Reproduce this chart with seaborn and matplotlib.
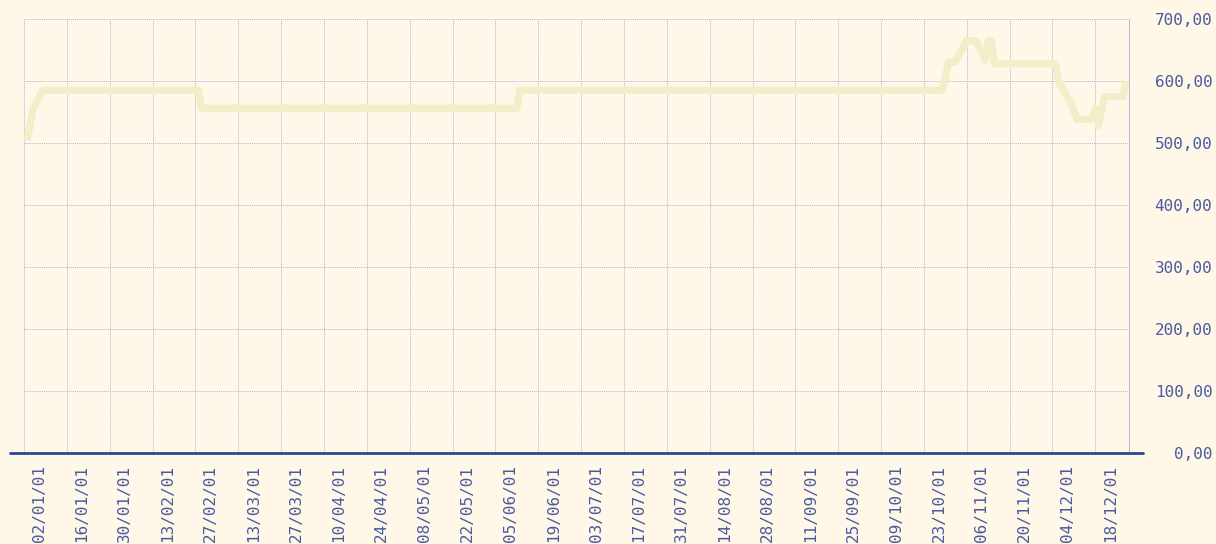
import pandas as pd
import matplotlib
matplotlib.use("Agg")
import matplotlib.pyplot as plt
import matplotlib.dates as mdates
import matplotlib.transforms as mtransforms
from matplotlib.ticker import FuncFormatter
import seaborn as sns

# Price curve vertices (2001)
dates = ["2001-01-03", "2001-01-05", "2001-01-08", "2001-02-28", "2001-03-01",
         "2001-06-12", "2001-06-13", "2001-10-29", "2001-10-31", "2001-11-02",
         "2001-11-06", "2001-11-09", "2001-11-12", "2001-11-13", "2001-11-14",
         "2001-11-15", "2001-12-05", "2001-12-06", "2001-12-10", "2001-12-12",
         "2001-12-17", "2001-12-18", "2001-12-19", "2001-12-21", "2001-12-27",
         "2001-12-28"]
values = [505, 556, 585, 585, 556,
          556, 585, 585, 630, 630,
          665, 665, 634, 665, 665,
          628, 628, 598, 565, 538,
          538, 555, 528, 575, 575,
          600]
y_ticks = [0, 100, 200, 300, 400, 500, 600, 700]

bg = "#FFF8E8"
navy = "#2E4594"
text_col = "#4A5AA0"
grid_col = "#B4B4D6"

df = pd.DataFrame({"date": pd.to_datetime(dates), "value": values})

sns.set_style("white")
plt.rcParams["font.family"] = ["DejaVu Sans Mono", "DejaVu Sans"]

fig = plt.figure(figsize=(12.16, 5.44), dpi=100, facecolor=bg)
ax = fig.add_axes([24 / 1216, 91 / 544, 1105 / 1216, 434 / 544])
ax.set_facecolor(bg)

sns.lineplot(data=df, x="date", y="value", ax=ax, color="#F3EDC9",
             linewidth=5.2, solid_joinstyle="round", solid_capstyle="butt",
             zorder=3)

ax.set_xlim(pd.Timestamp("2001-01-02"), pd.Timestamp("2001-12-29"))
ax.set_ylim(0, 700)

# x ticks every 14 days starting 02/01/01
ticks = pd.date_range("2001-01-02", "2001-12-29", freq="14D")
ax.set_xticks(ticks)
ax.xaxis.set_major_formatter(mdates.DateFormatter("%d/%m/%y"))
ax.set_yticks(y_ticks)
ax.yaxis.set_major_formatter(FuncFormatter(lambda v, p: f"{v:.2f}".replace(".", ",")))

ax.yaxis.tick_right()
ax.tick_params(axis="y", length=0, pad=60, labelsize=11.5, labelcolor=text_col)
ax.tick_params(axis="x", length=0, pad=9, labelsize=11.5, labelcolor=text_col,
               labelrotation=90)
for lab in ax.get_yticklabels():
    lab.set_horizontalalignment("right")
shift = mtransforms.ScaledTranslation(15 / 100, 0, fig.dpi_scale_trans)
for lab in ax.get_xticklabels():
    lab.set_transform(lab.get_transform() + shift)
    lab.set_verticalalignment("top")

ax.grid(True, color=grid_col, linestyle=(0, (1, 1)), linewidth=0.7)
ax.set_xlabel("")
ax.set_ylabel("")

for side in ["top", "left", "bottom"]:
    ax.spines[side].set_visible(False)
ax.spines["right"].set_color(grid_col)
ax.spines["right"].set_linestyle((0, (1, 1)))
ax.spines["right"].set_linewidth(0.7)

# baseline extending slightly beyond the plot area
ax.plot([-14 / 1105, 1119 / 1105], [0, 0], transform=ax.transAxes,
        color=navy, linewidth=2, clip_on=False, zorder=4)

fig.savefig("out.png", dpi=100, facecolor=bg)
